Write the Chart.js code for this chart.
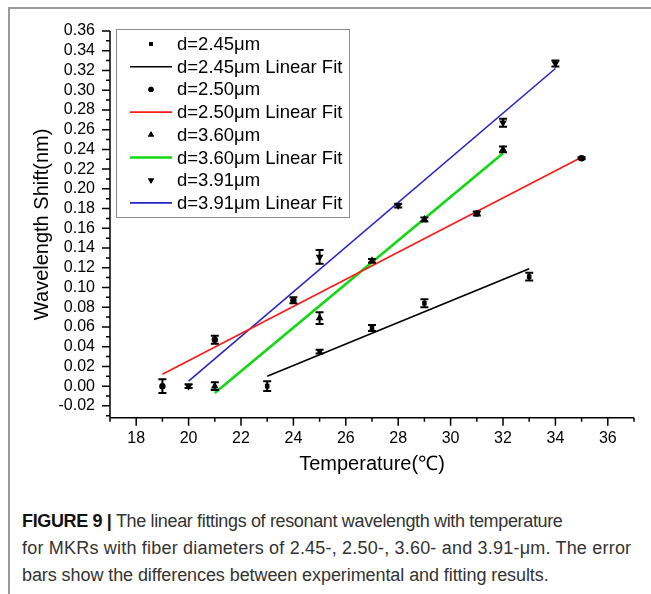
<!DOCTYPE html>
<html>
<head>
<meta charset="utf-8">
<script src="https://cdn.jsdelivr.net/npm/chart.js@4"></script>
<style>
  html, body { margin: 0; padding: 0; background: #fff; }
  #wrap { position: relative; width: 651px; height: 594px; overflow: hidden; }
  #frame { position: absolute; left: 8px; top: 7px; right: -4px; bottom: -4px;
           border-left: 2px solid #9a9a9a; border-top: 2px solid #9a9a9a; }
  #graph { position: absolute; left: 0; top: 0; }
  #caption { position: absolute; left: 22px; top: 508px; width: 625px;
             font-family: "Liberation Sans", Arial, sans-serif; font-size: 18px;
             line-height: 27px; color: #333; white-space: nowrap; }
  #caption b { color: #111; }
  #caption .l1 { letter-spacing: -0.35px; }
  #caption .l2 { letter-spacing: 0.2px; }
  #caption .l3 { letter-spacing: -0.08px; }
</style>
</head>
<body>
<div id="wrap">
  <div id="frame"></div>
  <canvas id="graph" width="651" height="480"></canvas>
  <div id="caption">
    <span class="l1"><b>FIGURE 9 |</b> The linear fittings of resonant wavelength with temperature</span><br>
    <span class="l2">for MKRs with fiber diameters of 2.45-, 2.50-, 3.60- and 3.91-μm. The error</span><br>
    <span class="l3">bars show the differences between experimental and fitting results.</span>
  </div>
</div>
<script>
// data
const xTicks = [18, 20, 22, 24, 26, 28, 30, 32, 34, 36];
const yTicks = [-0.02, 0.00, 0.02, 0.04, 0.06, 0.08, 0.10, 0.12, 0.14, 0.16, 0.18,
                0.20, 0.22, 0.24, 0.26, 0.28, 0.30, 0.32, 0.34, 0.36];

const temp245 = [23, 25, 27, 29, 33];
const shift245 = [0.000, 0.035, 0.059, 0.084, 0.111];
const err245 = [0.005, 0.002, 0.003, 0.004, 0.004];
const fit245 = [{ x: 23, y: 0.010 }, { x: 33, y: 0.119 }];

const temp250 = [19, 21, 24, 31, 35];
const shift250 = [0.000, 0.047, 0.087, 0.175, 0.231];
const err250 = [0.007, 0.004, 0.003, 0.002, 0.001];
const fit250 = [{ x: 19, y: 0.012 }, { x: 35, y: 0.232 }];

const temp360 = [21, 25, 27, 29, 32];
const shift360 = [0.000, 0.069, 0.127, 0.169, 0.240];
const err360 = [0.004, 0.006, 0.002, 0.002, 0.003];
const fit360 = [{ x: 21, y: -0.007 }, { x: 32, y: 0.236 }];

const temp391 = [20, 25, 28, 32, 34];
const shift391 = [0.000, 0.131, 0.183, 0.267, 0.327];
const err391 = [0.002, 0.007, 0.002, 0.004, 0.003];
const fit391 = [{ x: 20, y: 0.005 }, { x: 34, y: 0.322 }];

const toPoints = (xs, ys) => xs.map((x, i) => ({ x: x, y: ys[i] }));

const FONT = '"Liberation Sans", Arial, sans-serif';

function markerSet(label, xs, ys, errs, style, radius, rot) {
  return {
    type: 'scatter', label: label, data: toPoints(xs, ys), errorBars: errs,
    pointStyle: style, rotation: rot || 0, pointRadius: radius,
    backgroundColor: '#000', borderColor: '#000', borderWidth: 0
  };
}
function fitSet(label, pts, color, w) {
  return {
    type: 'line', label: label, data: pts, borderColor: color, borderWidth: w,
    pointRadius: 0, fill: false, tension: 0, isFit: true
  };
}

const datasets = [
  markerSet('d=2.45μm', temp245, shift245, err245, 'rect', 3.2),
  fitSet('d=2.45μm Linear Fit', fit245, '#000000', 1.6),
  markerSet('d=2.50μm', temp250, shift250, err250, 'circle', 3.2),
  fitSet('d=2.50μm Linear Fit', fit250, '#ff1a1a', 1.6),
  markerSet('d=3.60μm', temp360, shift360, err360, 'triangle', 4.5),
  fitSet('d=3.60μm Linear Fit', fit360, '#12d812', 2.6),
  markerSet('d=3.91μm', temp391, shift391, err391, 'triangle', 4.5, 180),
  fitSet('d=3.91μm Linear Fit', fit391, '#2626c4', 1.6)
];

// error bars, axes with major/minor ticks, boxed legend
const figPlugin = {
  id: 'figPlugin',
  afterDatasetsDraw(chart) {
    const ctx = chart.ctx;
    const xs = chart.scales.x, ys = chart.scales.y;
    ctx.save();
    ctx.strokeStyle = '#000';
    ctx.lineWidth = 2;
    chart.data.datasets.forEach(ds => {
      if (!ds.errorBars) return;
      ds.data.forEach((p, i) => {
        const px = xs.getPixelForValue(p.x);
        const top = ys.getPixelForValue(p.y + ds.errorBars[i]);
        const bot = ys.getPixelForValue(p.y - ds.errorBars[i]);
        ctx.beginPath();
        ctx.moveTo(px, top); ctx.lineTo(px, bot);
        ctx.moveTo(px - 4, top); ctx.lineTo(px + 4, top);
        ctx.moveTo(px - 4, bot); ctx.lineTo(px + 4, bot);
        ctx.stroke();
      });
    });
    ctx.restore();
  },
  afterDraw(chart) {
    const ctx = chart.ctx;
    const a = chart.chartArea;
    const xs = chart.scales.x, ys = chart.scales.y;
    ctx.save();
    ctx.strokeStyle = '#000';
    ctx.lineWidth = 1.5;
    ctx.beginPath();
    ctx.moveTo(a.left, a.top); ctx.lineTo(a.left, a.bottom); ctx.lineTo(a.right, a.bottom);
    // x ticks
    for (let v = Math.ceil(xs.min); v <= xs.max; v += 1) {
      const px = xs.getPixelForValue(v);
      const len = xTicks.includes(v) ? 8 : 4;
      ctx.moveTo(px, a.bottom); ctx.lineTo(px, a.bottom + len);
    }
    // y ticks
    for (let k = Math.ceil(ys.min * 100); k <= Math.round(ys.max * 100); k += 1) {
      const py = ys.getPixelForValue(k / 100);
      const len = k % 2 === 0 ? 8 : 4;
      ctx.moveTo(a.left, py); ctx.lineTo(a.left - len, py);
    }
    ctx.stroke();

    // legend box
    const lx = 116.5, ly = 29.5, lw = 233, lh = 188;
    ctx.lineWidth = 1;
    ctx.strokeStyle = '#8c8c8c';
    ctx.strokeRect(lx, ly, lw, lh);
    ctx.font = '18.5px ' + FONT;
    ctx.textBaseline = 'middle';
    ctx.fillStyle = '#000';
    chart.data.datasets.forEach((ds, i) => {
      const cy = 44 + i * 22.7;
      if (ds.isFit) {
        ctx.strokeStyle = ds.borderColor;
        ctx.lineWidth = ds.borderWidth;
        ctx.beginPath();
        ctx.moveTo(130, cy); ctx.lineTo(172, cy);
        ctx.stroke();
      } else {
        const r = ds.pointStyle === 'triangle' ? 3.6 : 2.6;
        Chart.helpers.drawPoint(ctx, { pointStyle: ds.pointStyle, radius: r, rotation: ds.rotation, borderWidth: 0 }, 151, cy);
        ctx.fill();
      }
      ctx.fillStyle = '#000';
      ctx.fillText(ds.label, 177, cy + 1);
    });
    ctx.restore();
  }
};

new Chart(document.getElementById('graph'), {
  type: 'scatter',
  data: { datasets: datasets },
  options: {
    responsive: false,
    animation: false,
    layout: { padding: { left: 0, top: 31, right: 17, bottom: 0 } },
    plugins: { legend: { display: false }, tooltip: { enabled: false } },
    scales: {
      x: {
        type: 'linear', min: 17, max: 37,
        afterBuildTicks: s => { s.ticks = xTicks.map(v => ({ value: v })); },
        afterFit: s => { s.height = 62.3; },
        grid: { display: false, drawTicks: false },
        border: { display: false },
        ticks: { padding: 11, autoSkip: false, maxRotation: 0, color: '#000', font: { family: FONT, size: 16 } },
        title: { display: true, text: 'Temperature(℃)', color: '#000',
                 font: { family: FONT, size: 20 }, padding: { top: 0, bottom: 4 } }
      },
      y: {
        type: 'linear', min: -0.032, max: 0.36,
        afterBuildTicks: s => { s.ticks = yTicks.map(v => ({ value: v })); },
        afterFit: s => { s.width = 110; },
        grid: { display: false, drawTicks: false },
        border: { display: false },
        ticks: { padding: 15, autoSkip: false, color: '#000', font: { family: FONT, size: 16 },
                 callback: v => v.toFixed(2) },
        title: { display: true, text: 'Wavelength Shift(nm)', color: '#000',
                 font: { family: FONT, size: 20 }, padding: { top: 30, bottom: 0 } }
      }
    }
  },
  plugins: [figPlugin]
});
</script>
</body>
</html>
